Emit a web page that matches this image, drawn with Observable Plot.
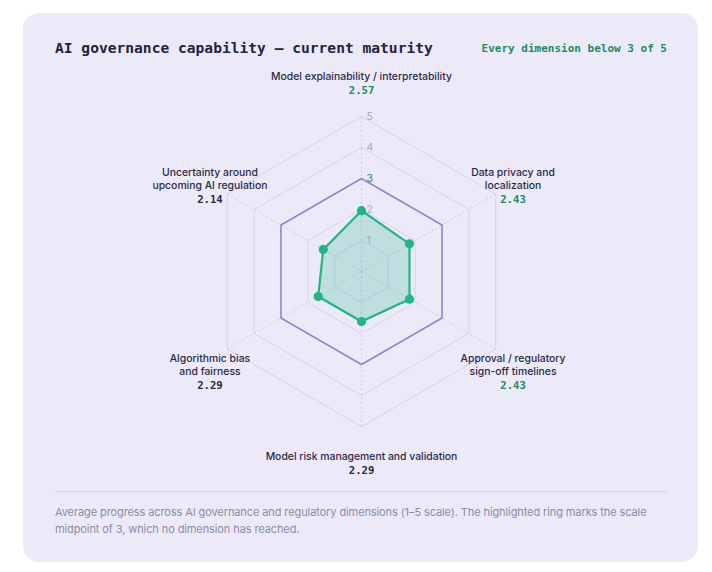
<!DOCTYPE html>
<html>
<head>
<meta charset="utf-8">
<script src="https://cdn.jsdelivr.net/npm/d3@7"></script>
<script src="https://cdn.jsdelivr.net/npm/@observablehq/plot@0.6"></script>
<style>
  html, body { margin: 0; padding: 0; background: #ffffff; }
  body { width: 712px; height: 572px; position: relative; overflow: hidden; font-family: Inter, "Noto Sans", sans-serif; }
  .card { position: absolute; left: 23px; top: 13px; width: 675px; height: 549px; background: #eceaf8; border-radius: 16px; }
  .title { position: absolute; left: 55px; top: 39px; line-height: 18px; font-family: "DejaVu Sans Mono", monospace; font-weight: bold; font-size: 14.6px; color: #23223f; white-space: nowrap; }
  .subtitle { position: absolute; right: 45px; top: 41px; line-height: 16px; font-family: "DejaVu Sans Mono", monospace; font-weight: bold; font-size: 11px; color: #1d8a63; white-space: nowrap; }
  #chart { position: absolute; left: 55px; top: 60px; }
  .rule { position: absolute; left: 55px; top: 491px; width: 612px; height: 1px; background: #d6d3e8; }
  .caption { position: absolute; left: 55px; top: 504px; width: 612px; font-size: 11px; letter-spacing: -0.1px; line-height: 17px; color: #8d8ba5; }
</style>
</head>
<body>
<div class="card"></div>
<div class="title">AI governance capability — current maturity</div>
<div class="subtitle">Every dimension below 3 of 5</div>
<div id="chart"></div>
<div class="rule"></div>
<div class="caption">Average progress across AI governance and regulatory dimensions (1–5 scale). The highlighted ring marks the scale midpoint of 3, which no dimension has reached.</div>
<script>
// ---- data ----
const dimensions = [
  "Model explainability / interpretability",
  "Data privacy and\nlocalization",
  "Approval / regulatory\nsign-off timelines",
  "Model risk management and validation",
  "Algorithmic bias\nand fairness",
  "Uncertainty around\nupcoming AI regulation"
];
const scores = [2.57, 2.43, 2.43, 2.29, 2.29, 2.14];
const ringLevels = [1, 2, 3, 4, 5];
const highlightLevel = 3;
const scaleMin = 1, scaleMax = 5;

// ---- layout ----
const W = 612, H = 420, cx = 306, cy = 211, ppu = 31; // pixels per ring unit
const nAxes = dimensions.length;
const ang = i => i * 2 * Math.PI / nAxes;
const outer = ringLevels[ringLevels.length - 1];

const ringPts = [];
for (const k of ringLevels) for (let i = 0; i <= nAxes; i++) {
  const a = ang(i % nAxes);
  ringPts.push({k, x: k * Math.sin(a), y: k * Math.cos(a)});
}
const spokes = dimensions.map((d, i) => ({x1: 0, y1: 0, x2: outer * Math.sin(ang(i)), y2: outer * Math.cos(ang(i))}));
const rOf = v => (v - scaleMin) / (scaleMax - scaleMin) * outer;
const poly = scores.map((v, i) => ({v, x: rOf(v) * Math.sin(ang(i)), y: rOf(v) * Math.cos(ang(i))}));
const polyClosed = [...poly, poly[0]];
const mean = d3.mean(scores);

const names = [], vals = [];
dimensions.forEach((d, i) => {
  const a = ang(i), s = Math.sin(a), c = Math.cos(a);
  const lines = d.split("\n").length;
  let first;
  if (c > 0.9) first = -196; else if (c > 0) first = -99.5; else if (c > -0.9) first = 86; else first = 184;
  const xpx = s * 175;
  const nameMid = first + (lines - 1) * 13 / 2;
  const valY = first + (lines - 1) * 13 + 15;
  names.push({text: d, x: xpx / ppu, y: -nameMid / ppu});
  vals.push({text: scores[i].toFixed(2), x: xpx / ppu, y: -valY / ppu, fill: scores[i] > mean ? "#1d8a63" : "#2a2948"});
});

const green = "#1fb585";
const chart = Plot.plot({
  width: W, height: H,
  margin: 0,
  style: {background: "transparent", overflow: "visible"},
  x: {domain: [-cx / ppu, (W - cx) / ppu], range: [0, W], axis: null},
  y: {domain: [-(H - cy) / ppu, cy / ppu], range: [H, 0], axis: null},
  color: {type: "identity"},
  marks: [
    Plot.line(ringPts.filter(d => d.k !== highlightLevel), {x: "x", y: "y", z: "k", stroke: "#d6d2ee", strokeWidth: 1}),
    Plot.link(spokes, {x1: "x1", y1: "y1", x2: "x2", y2: "y2", stroke: "#cfcbe6", strokeWidth: 1, strokeDasharray: "2,2.5"}),
    Plot.line(ringPts.filter(d => d.k === highlightLevel), {x: "x", y: "y", stroke: "#8e86d4", strokeWidth: 1.6}),
    Plot.line(polyClosed, {x: "x", y: "y", fill: "#22b487", fillOpacity: 0.22, stroke: green, strokeWidth: 2.2, strokeLinejoin: "round"}),
    Plot.dot(poly, {x: "x", y: "y", r: 4.6, fill: green}),
    Plot.text(ringLevels, {x: () => 0, y: d => d, text: d => String(d), dx: 5, textAnchor: "start",
      fill: d => d === highlightLevel ? "#1d8a63" : "#aba8c4", fontWeight: d => d === highlightLevel ? "bold" : "normal",
      fontSize: 10.5, fontFamily: "Inter, sans-serif"}),
    Plot.text(names, {x: "x", y: "y", text: "text", fill: "#2a2948", fontSize: 10.4, fontWeight: 500, lineHeight: 13 / 10.4, lineAnchor: "middle", textAnchor: "middle", fontFamily: "Inter, sans-serif"}),
    Plot.text(vals, {x: "x", y: "y", text: "text", fill: "fill", fontSize: 10.6, fontWeight: "bold", textAnchor: "middle", fontFamily: "DejaVu Sans Mono, monospace"})
  ]
});
document.getElementById("chart").appendChild(chart);
</script>
</body>
</html>
